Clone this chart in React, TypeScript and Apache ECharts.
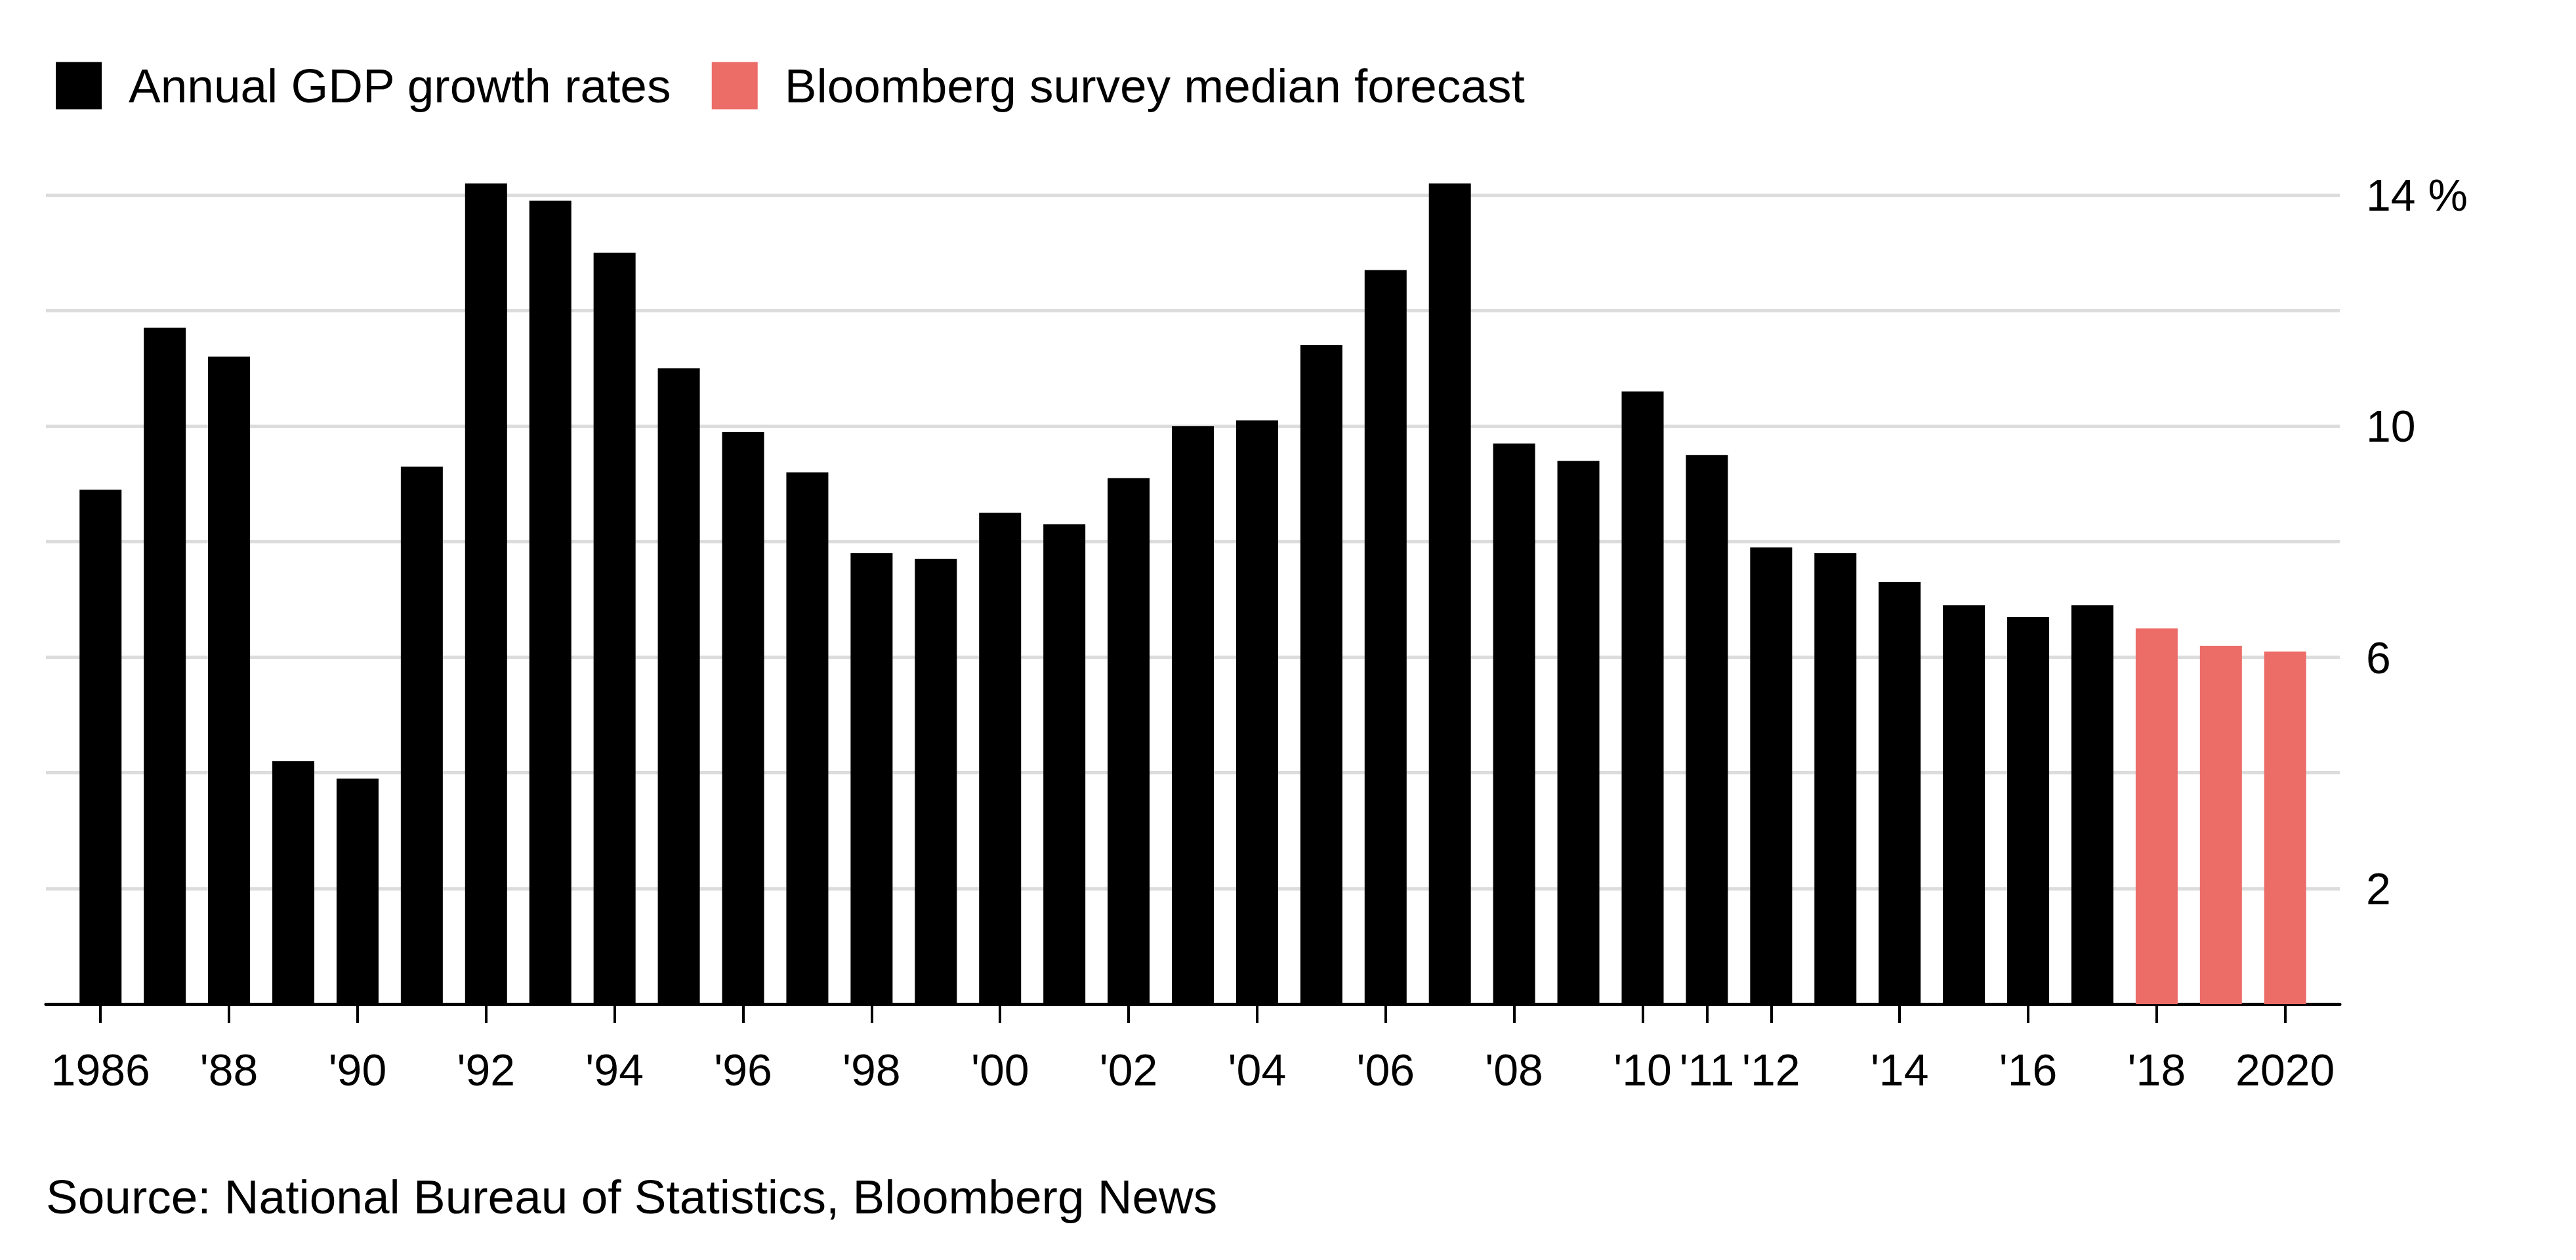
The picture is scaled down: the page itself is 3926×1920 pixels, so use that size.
import React, { useEffect, useRef } from "react";
import * as echarts from "echarts";

const historyYears = [
  1986, 1987, 1988, 1989, 1990, 1991, 1992, 1993, 1994, 1995, 1996, 1997,
  1998, 1999, 2000, 2001, 2002, 2003, 2004, 2005, 2006, 2007, 2008, 2009,
  2010, 2011, 2012, 2013, 2014, 2015, 2016, 2017,
];
const historyValues = [
  8.9, 11.7, 11.2, 4.2, 3.9, 9.3, 14.2, 13.9, 13.0, 11.0, 9.9, 9.2,
  7.8, 7.7, 8.5, 8.3, 9.1, 10.0, 10.1, 11.4, 12.7, 14.2, 9.7, 9.4,
  10.6, 9.5, 7.9, 7.8, 7.3, 6.9, 6.7, 6.9,
];
const forecastYears = [2018, 2019, 2020];
const forecastValues = [6.5, 6.2, 6.1];

const tickYears = [
  1986, 1988, 1990, 1992, 1994, 1996, 1998, 2000, 2002, 2004, 2006, 2008,
  2010, 2011, 2012, 2014, 2016, 2018, 2020,
];
const tickLabels = [
  "1986", "'88", "'90", "'92", "'94", "'96", "'98", "'00", "'02", "'04", "'06", "'08",
  "'10", "'11", "'12", "'14", "'16", "'18", "2020",
];
const yLabelValues = [2, 6, 10, 14];
const yUnit = "%";

const seriesNames = ["Annual GDP growth rates", "Bloomberg survey median forecast"];
const sourceText = "Source: National Bureau of Statistics, Bloomberg News";

const FONT = "'Liberation Sans', Arial, Helvetica, sans-serif";

export default function App() {
  const ref = useRef<HTMLDivElement>(null);

  useEffect(() => {
    if (!ref.current) return;
    const chart = echarts.init(ref.current, null, { renderer: "svg" });
    const histData = historyYears.map((y, i) => [y, historyValues[i]]);
    const fcData = forecastYears.map((y, i) => [y, forecastValues[i]]);
    chart.setOption({
      animation: false,
      backgroundColor: "#ffffff",
      textStyle: { fontFamily: FONT },
      legend: {
        left: 80,
        top: 89,
        icon: "rect",
        itemWidth: 70,
        itemHeight: 72,
        itemGap: 61,
        selectedMode: false,
        textStyle: {
          fontFamily: FONT,
          fontSize: 73,
          color: "#000000",
          padding: [0, 0, 0, 36],
        },
        data: seriesNames,
      },
      grid: {
        left: 70,
        right: 360,
        top: 297,
        bottom: 390,
        containLabel: false,
      },
      xAxis: {
        type: "value",
        min: 1985.15,
        max: 2020.85,
        splitLine: { show: false },
        axisLine: { show: true, lineStyle: { color: "#000000", width: 5 } },
        axisTick: {
          show: true,
          customValues: tickYears,
          length: 29,
          lineStyle: { color: "#000000", width: 4 },
        },
        axisLabel: {
          show: true,
          customValues: tickYears,
          margin: 66,
          fontSize: 68,
          fontFamily: FONT,
          color: "#000000",
          formatter: (v: number) => {
            const idx = tickYears.indexOf(Math.round(v));
            return idx >= 0 ? tickLabels[idx] : "";
          },
        },
      },
      yAxis: {
        type: "value",
        position: "right",
        min: 0,
        max: 14,
        interval: 2,
        axisLine: { show: false },
        axisTick: { show: false },
        splitLine: { show: true, lineStyle: { color: "#dcdcdc", width: 5 } },
        axisLabel: {
          margin: 40,
          fontSize: 68,
          fontFamily: FONT,
          color: "#000000",
          formatter: (v: number) => {
            if (!yLabelValues.includes(v)) return "";
            return v === yLabelValues[yLabelValues.length - 1] ? `${v} ${yUnit}` : String(v);
          },
        },
      },
      series: [
        {
          name: seriesNames[0],
          type: "bar",
          data: histData,
          barWidth: 64,
          barGap: "-100%",
          clip: false,
          itemStyle: { color: "#000000" },
        },
        {
          name: seriesNames[1],
          type: "bar",
          data: fcData,
          barWidth: 64,
          barGap: "-100%",
          clip: false,
          itemStyle: { color: "#ec6c67" },
        },
      ],
      graphic: [
        {
          type: "text",
          left: 70,
          top: 1787,
          style: {
            text: sourceText,
            fontFamily: FONT,
            fontSize: 73,
            fill: "#000000",
          },
        },
      ],
    });
    return () => {
      chart.dispose();
    };
  }, []);

  return (
    <div
      ref={ref}
      style={{ position: "fixed", left: 0, top: 0, width: 3926, height: 1920, background: "#fff" }}
    />
  );
}
